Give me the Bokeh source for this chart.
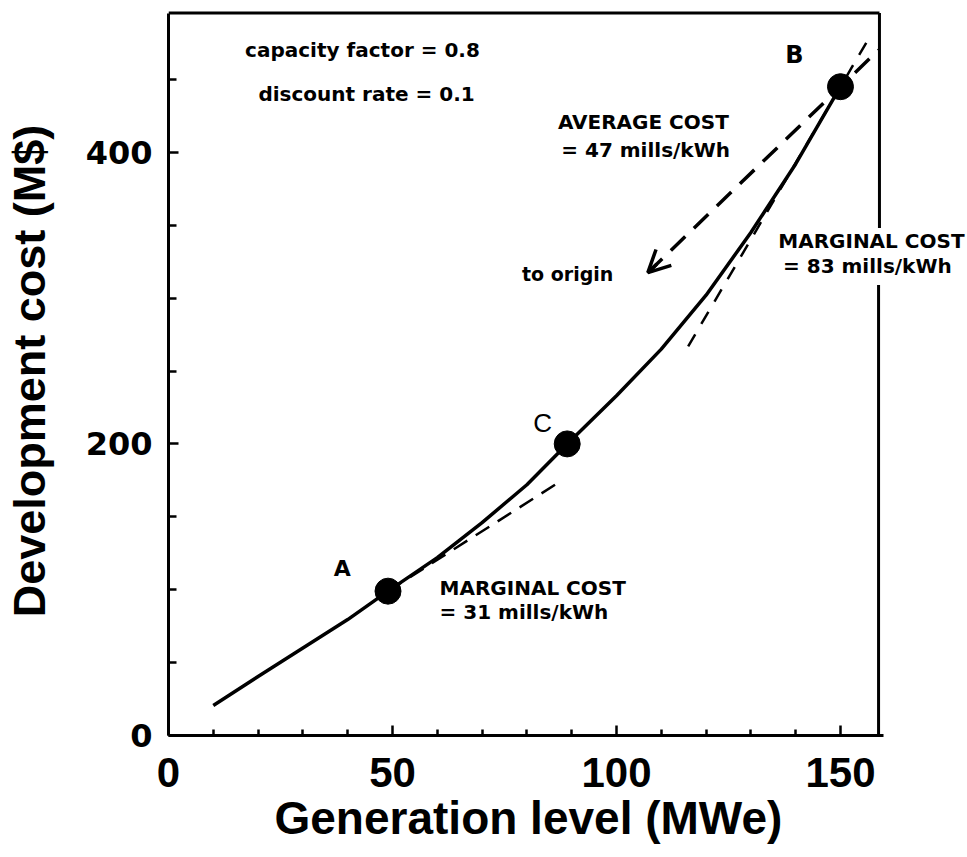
from bokeh.plotting import figure
from bokeh.models import Range1d, FixedTicker, Label, Arrow, OpenHead, Title
from bokeh.embed import file_html
from bokeh.resources import INLINE

# Development cost curve (M$) against generation level (MWe)
gen_mw = [10, 20, 30, 40, 49, 60, 70, 80, 89, 100, 110, 120, 130, 140, 150]
dev_cost = [20.6, 40.5, 60, 79.5, 99, 122, 146, 172, 200, 233, 265, 302, 345, 392, 445]

# Marked points on the curve
point_names = ["A", "C", "B"]
point_x = [49, 89, 150]
point_y = [99, 200, 445]

# Cost figures (mills/kWh)
average_cost_b = 47
marginal_cost_a = 31
marginal_cost_b = 83

capacity_factor = 0.8
discount_rate = 0.1

x_ticks = [0, 50, 100, 150]
x_minor = [10, 20, 30, 40, 60, 70, 80, 90, 110, 120, 130, 140]
y_ticks = [0, 200, 400]
y_minor = [50, 100, 150, 250, 300, 350, 450]

# slope in M$/MWe per mill/kWh, fixed by the average cost at B
ax, ay = point_x[0], point_y[0]
bx, by = point_x[2], point_y[2]
slope_avg = by / bx
mills_per_slope = average_cost_b / slope_avg
slope_a = marginal_cost_a / mills_per_slope
slope_b = marginal_cost_b / mills_per_slope

X_RIGHT = 158.7   # right border of the box
Y_TOP = 495.5     # top border of the box

p = figure(frame_width=801, frame_height=729,
           x_range=Range1d(0, 178.8), y_range=Range1d(0, 500),
           min_border_left=166, min_border_right=0,
           min_border_top=6, min_border_bottom=122,
           output_backend="svg", toolbar_location=None)
p.outline_line_color = None
p.grid.visible = False
p.background_fill_color = "white"

# axes
for ax_ in (p.xaxis, p.yaxis):
    ax_.axis_line_width = 3
    ax_.major_tick_line_width = 2.5
    ax_.minor_tick_line_width = 2.5
    ax_.major_tick_out = 0
    ax_.minor_tick_out = 0
    ax_.major_label_text_color = "black"

p.xaxis.ticker = FixedTicker(ticks=x_ticks, minor_ticks=x_minor)
p.xaxis.bounds = (0, X_RIGHT + 1)
p.xaxis.major_tick_in = 10
p.xaxis.minor_tick_in = 6
p.xaxis.major_label_text_font = "Liberation Sans"
p.xaxis.major_label_text_font_style = "bold"
p.xaxis.major_label_text_font_size = "42px"
p.xaxis.major_label_standoff = 22

# x axis title, placed under the box rather than under the wider frame
p.add_layout(Title(text="Generation level (MWe)", align="left", offset=106,
                   text_font="Liberation Sans", text_font_style="bold",
                   text_font_size="46px", text_color="black", standoff=0), "below")

p.yaxis.ticker = FixedTicker(ticks=y_ticks, minor_ticks=y_minor)
p.yaxis.bounds = (0, Y_TOP)
p.yaxis.major_tick_in = 10
p.yaxis.minor_tick_in = 8
p.yaxis.major_label_text_font = "DejaVu Sans"
p.yaxis.major_label_text_font_style = "bold"
p.yaxis.major_label_text_font_size = "32px"
p.yaxis.major_label_standoff = 16
p.yaxis.axis_label = "Development cost (M$)"
p.yaxis.axis_label_text_font = "Liberation Sans"
p.yaxis.axis_label_text_font_style = "bold"
p.yaxis.axis_label_text_color = "black"
p.yaxis.axis_label_text_font_size = "45px"
p.yaxis.axis_label_standoff = 28

# top and right borders (right one broken around its annotation)
p.line([0, X_RIGHT], [Y_TOP, Y_TOP], line_color="black", line_width=3)
p.line([X_RIGHT, X_RIGHT], [Y_TOP, 348], line_color="black", line_width=3)
p.line([X_RIGHT - 0.2, X_RIGHT - 0.2], [309, 0], line_color="black", line_width=3)

# main curve
p.line(gen_mw, dev_cost, line_color="black", line_width=3.5)

# average cost line through B, pointing toward the origin
tip_x = 107
p.line([tip_x, 158.5], [slope_avg * tip_x, slope_avg * 158.5],
       line_color="black", line_width=3.5, line_dash="20 12")
p.add_layout(Arrow(end=OpenHead(size=22, line_width=3.5, line_color="black"),
                   x_start=tip_x + 2, y_start=slope_avg * (tip_x + 2),
                   x_end=tip_x, y_end=slope_avg * tip_x,
                   line_width=3.5, line_color="black"))

# marginal cost tangents at A and B
p.line([ax, 88], [ay, ay + slope_a * (88 - ax)],
       line_color="black", line_width=2.5, line_dash="16 10")
p.line([116, 157], [by + slope_b * (116 - bx), by + slope_b * (157 - bx)],
       line_color="black", line_width=2.5, line_dash="14 12")

# marked points
p.scatter(point_x, point_y, size=26, color="black")

def note(x, y, text, size="20px", align="center", style="bold", font="DejaVu Sans"):
    p.add_layout(Label(x=x, y=y, text=text, text_font=font, text_font_style=style,
                       text_font_size=size, text_align=align, text_baseline="middle",
                       text_color="black"))

note(38.8, 114.6, point_names[0], size="22px")
note(83.5, 214, point_names[1], size="26px", style="normal", font="Liberation Sans")
note(139.7, 466.5, point_names[2], size="24px")

note(43.3, 470, f"capacity factor = {capacity_factor}", size="20px")
note(44.2, 440, f"discount rate = {discount_rate}", size="20px")
note(106, 420.6, "AVERAGE COST")
note(106.5, 401.4, f"= {average_cost_b} mills/kWh")
note(89.1, 316.3, "to origin", size="19px")
note(156.9, 338.9, "MARGINAL COST")
note(156, 321.8, f"= {marginal_cost_b} mills/kWh")
note(60.5, 101.5, "MARGINAL COST", align="left")
note(60.5, 84.4, f"= {marginal_cost_a} mills/kWh", align="left")

open("out.html", "w").write(file_html(p, INLINE))
